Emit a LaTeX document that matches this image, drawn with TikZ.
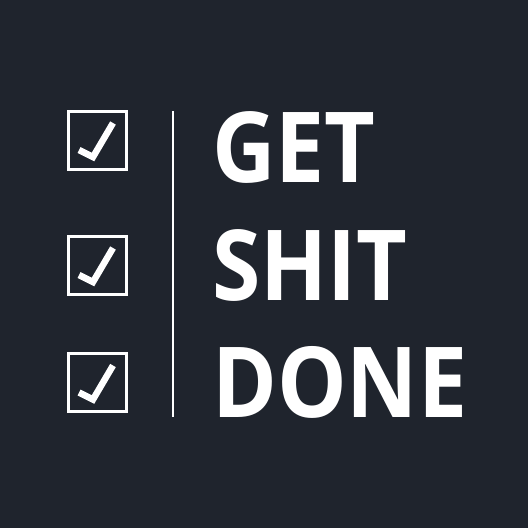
\documentclass[tikz,border=0pt]{standalone}
\usepackage{fontspec}
\setmainfont{Open Sans}
\newfontfamily\bigfont{Open Sans}[UprightFont=* Bold]
\definecolor{bgcol}{RGB}{31,36,45}
\begin{document}
\begin{tikzpicture}[x=1pt,y=-1pt,
  box/.style={draw=white,line width=3pt,minimum width=58pt,minimum height=58pt,inner sep=0pt},
  tick/.style={draw=white,line width=6.5pt,line join=miter},
  word/.style={text=white,font=\bigfont\fontsize{98}{98}\selectfont,anchor=base west,inner sep=0pt,xscale=0.895}]
\fill[bgcol] (0,0) rectangle (528,528);
\useasboundingbox (0,0) rectangle (528,528);
\node[box] (b1) at (97.5,140) {};
\node[box] (b2) at (97.5,265) {};
\node[box] (b3) at (97.5,382.5) {};
\foreach \b in {b1,b2,b3}{
  \draw[tick] ([shift={(-18.5,10)}]\b.center) -- ([shift={(-4.5,17)}]\b.center) -- ([shift={(15.5,-17)}]\b.center);
}
\coordinate (lt) at (173,111);
\coordinate (lb) at (173,417);
\draw[white,line width=2.5pt] (lt) -- (lb);
\node[word] (w1) at (212,182) {GET};
\node[word] (w2) at (212,300) {SHIT};
\node[word] (w3) at (212,417) {DONE};
\end{tikzpicture}
\end{document}
